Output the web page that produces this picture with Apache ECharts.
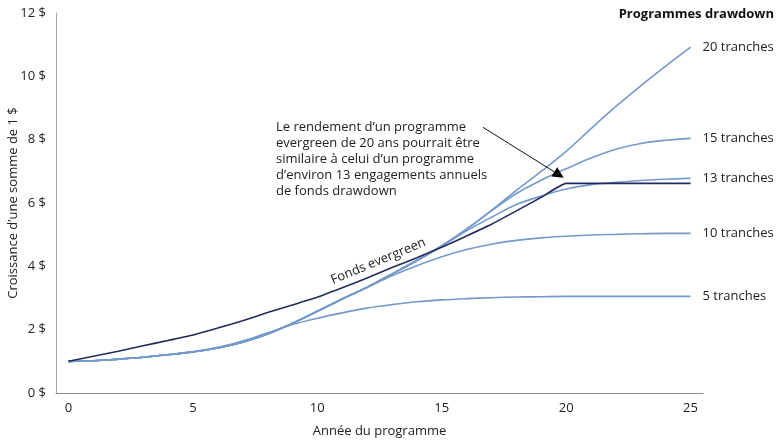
<!DOCTYPE html>
<html>
<head>
<meta charset="utf-8">
<script src="https://cdn.jsdelivr.net/npm/echarts@6/dist/echarts.min.js"></script>
<style>html,body{margin:0;padding:0;background:#fff}#c{width:780px;height:440px}</style>
</head>
<body>
<div id="c"></div>
<script>
const years = ['0','1','2','3','4','5','6','7','8','9','10','11','12','13','14','15','16','17','18','19','20','21','22','23','24','25'];
const yTicks = [0, 2, 4, 6, 8, 10, 12];
const evergreen = [1.00,1.16,1.32,1.49,1.66,1.83,2.05,2.28,2.54,2.78,3.02,3.32,3.63,3.96,4.27,4.60,4.96,5.33,5.75,6.18,6.62,6.62,6.62,6.62,6.62,6.62];
const tranches5  = [1.00,1.02,1.07,1.13,1.21,1.30,1.44,1.64,1.90,2.16,2.36,2.53,2.68,2.79,2.88,2.94,2.98,3.01,3.03,3.04,3.05,3.05,3.05,3.05,3.05,3.05];
const tranches10 = [1.00,1.02,1.07,1.13,1.21,1.30,1.42,1.60,1.86,2.20,2.58,2.97,3.33,3.70,4.02,4.30,4.53,4.70,4.82,4.90,4.95,4.99,5.01,5.03,5.04,5.04];
const tranches13 = [1.00,1.02,1.07,1.13,1.21,1.30,1.42,1.60,1.86,2.20,2.58,2.97,3.34,3.75,4.17,4.63,5.12,5.55,5.95,6.22,6.44,6.58,6.65,6.71,6.75,6.78];
const tranches15 = [1.00,1.02,1.07,1.13,1.21,1.30,1.42,1.60,1.86,2.20,2.58,2.97,3.34,3.76,4.19,4.65,5.17,5.75,6.30,6.72,7.08,7.42,7.70,7.88,7.98,8.04];
const tranches20 = [1.00,1.02,1.07,1.13,1.21,1.30,1.42,1.60,1.86,2.20,2.58,2.97,3.34,3.76,4.19,4.65,5.18,5.77,6.40,7.00,7.63,8.35,9.05,9.70,10.32,10.92];
const drawdownNames = ['5 tranches','10 tranches','13 tranches','15 tranches','20 tranches'];
const drawdownData = [tranches5, tranches10, tranches13, tranches15, tranches20];
const titleText = 'Programmes drawdown';
const evergreenLabel = 'Fonds evergreen';
const noteLines = ['Le rendement d\u2019un programme','evergreen de 20 ans pourrait \u00eatre','similaire \u00e0 celui d\u2019un programme','d\u2019environ 13 engagements annuels','de fonds drawdown'];
const yName = 'Croissance d\u2019une somme de 1 $';
const xName = 'Ann\u00e9e du programme';

const FONT = '"Open Sans"';
const BLUE = '#7499cc';
const NAVY = '#222c5c';
const TXT = '#222222';

const chart = echarts.init(document.getElementById('c'), null, {renderer:'canvas'});

const series = drawdownNames.map((n, i) => ({
  name: n, type: 'line', data: drawdownData[i], smooth: 0.35, symbol: 'none',
  lineStyle: {color: BLUE, width: 1.6},
  endLabel: {show: true, formatter: n, color: TXT, fontFamily: FONT, fontSize: 13, distance: 12},
  z: 2, silent: true
}));
series.push({
  name: evergreenLabel, type: 'line', data: evergreen, smooth: 0.15, symbol: 'none',
  lineStyle: {color: NAVY, width: 1.6}, z: 3, silent: true
});

chart.setOption({
  animation: false,
  textStyle: {fontFamily: FONT},
  grid: {left: 56, right: 77, top: 13, bottom: 47, containLabel: false, outerBoundsMode: 'none'},
  title: {text: titleText, right: 1, top: 3, textStyle: {fontFamily: FONT, fontWeight: 'bold', fontSize: 13, color: '#111'}},
  xAxis: {
    type: 'category', data: years, boundaryGap: true,
    axisLine: {show: true, lineStyle: {color: '#8c8c8c', width: 1}},
    axisTick: {show: false},
    axisLabel: {interval: 4, color: TXT, fontSize: 13, fontFamily: FONT, margin: 9},
    name: xName, nameLocation: 'middle', nameGap: 32, nameMoveOverlap: false,
    nameTextStyle: {color: TXT, fontSize: 13, fontFamily: FONT}
  },
  yAxis: {
    type: 'value', min: yTicks[0], max: yTicks[yTicks.length-1], interval: 2,
    axisLine: {show: true, lineStyle: {color: '#a6a6a6', width: 1}},
    axisTick: {show: false},
    splitLine: {show: false},
    axisLabel: {formatter: '{value} $', color: TXT, fontSize: 13, fontFamily: FONT, margin: 10},
    name: yName, nameLocation: 'middle', nameGap: 36, nameRotate: 90, nameMoveOverlap: false,
    nameTextStyle: {color: TXT, fontSize: 13, fontFamily: FONT}
  },
  series: series
});

function toPx(t, v) {
  const p0 = chart.convertToPixel({gridIndex: 0}, [0, v]);
  const p1 = chart.convertToPixel({gridIndex: 0}, [25, v]);
  return [p0[0] + (p1[0] - p0[0]) * t / 25, p0[1]];
}

const lblPos = toPx(12.45, 4.16);
const notePos = toPx(8.34, 8.64);
const aStart = toPx(16.66, 8.39);
const aEnd = toPx(19.9, 6.8);
const ang = Math.atan2(aEnd[1] - aStart[1], aEnd[0] - aStart[0]);
const hl = 11, hw = 5.5;
const back = [aEnd[0] - hl * Math.cos(ang), aEnd[1] - hl * Math.sin(ang)];
const headPts = [
  aEnd,
  [back[0] + hw * Math.sin(ang), back[1] - hw * Math.cos(ang)],
  [back[0] - hw * Math.sin(ang), back[1] + hw * Math.cos(ang)]
];

chart.setOption({
  graphic: [
    {type: 'text', x: lblPos[0], y: lblPos[1], rotation: 22.6 * Math.PI / 180,
     style: {text: evergreenLabel, fill: TXT, font: '13px ' + FONT, textAlign: 'center', textVerticalAlign: 'middle'}, z: 10},
    {type: 'text', x: notePos[0], y: notePos[1],
     style: {text: noteLines.join('\n'), fill: TXT, font: '13px ' + FONT, lineHeight: 16, textAlign: 'left', textVerticalAlign: 'top'}, z: 10},
    {type: 'line', shape: {x1: aStart[0], y1: aStart[1], x2: back[0], y2: back[1]}, style: {stroke: '#111', lineWidth: 1}, z: 10},
    {type: 'polygon', shape: {points: headPts}, style: {fill: '#000'}, z: 10}
  ]
});
</script>
</body>
</html>
